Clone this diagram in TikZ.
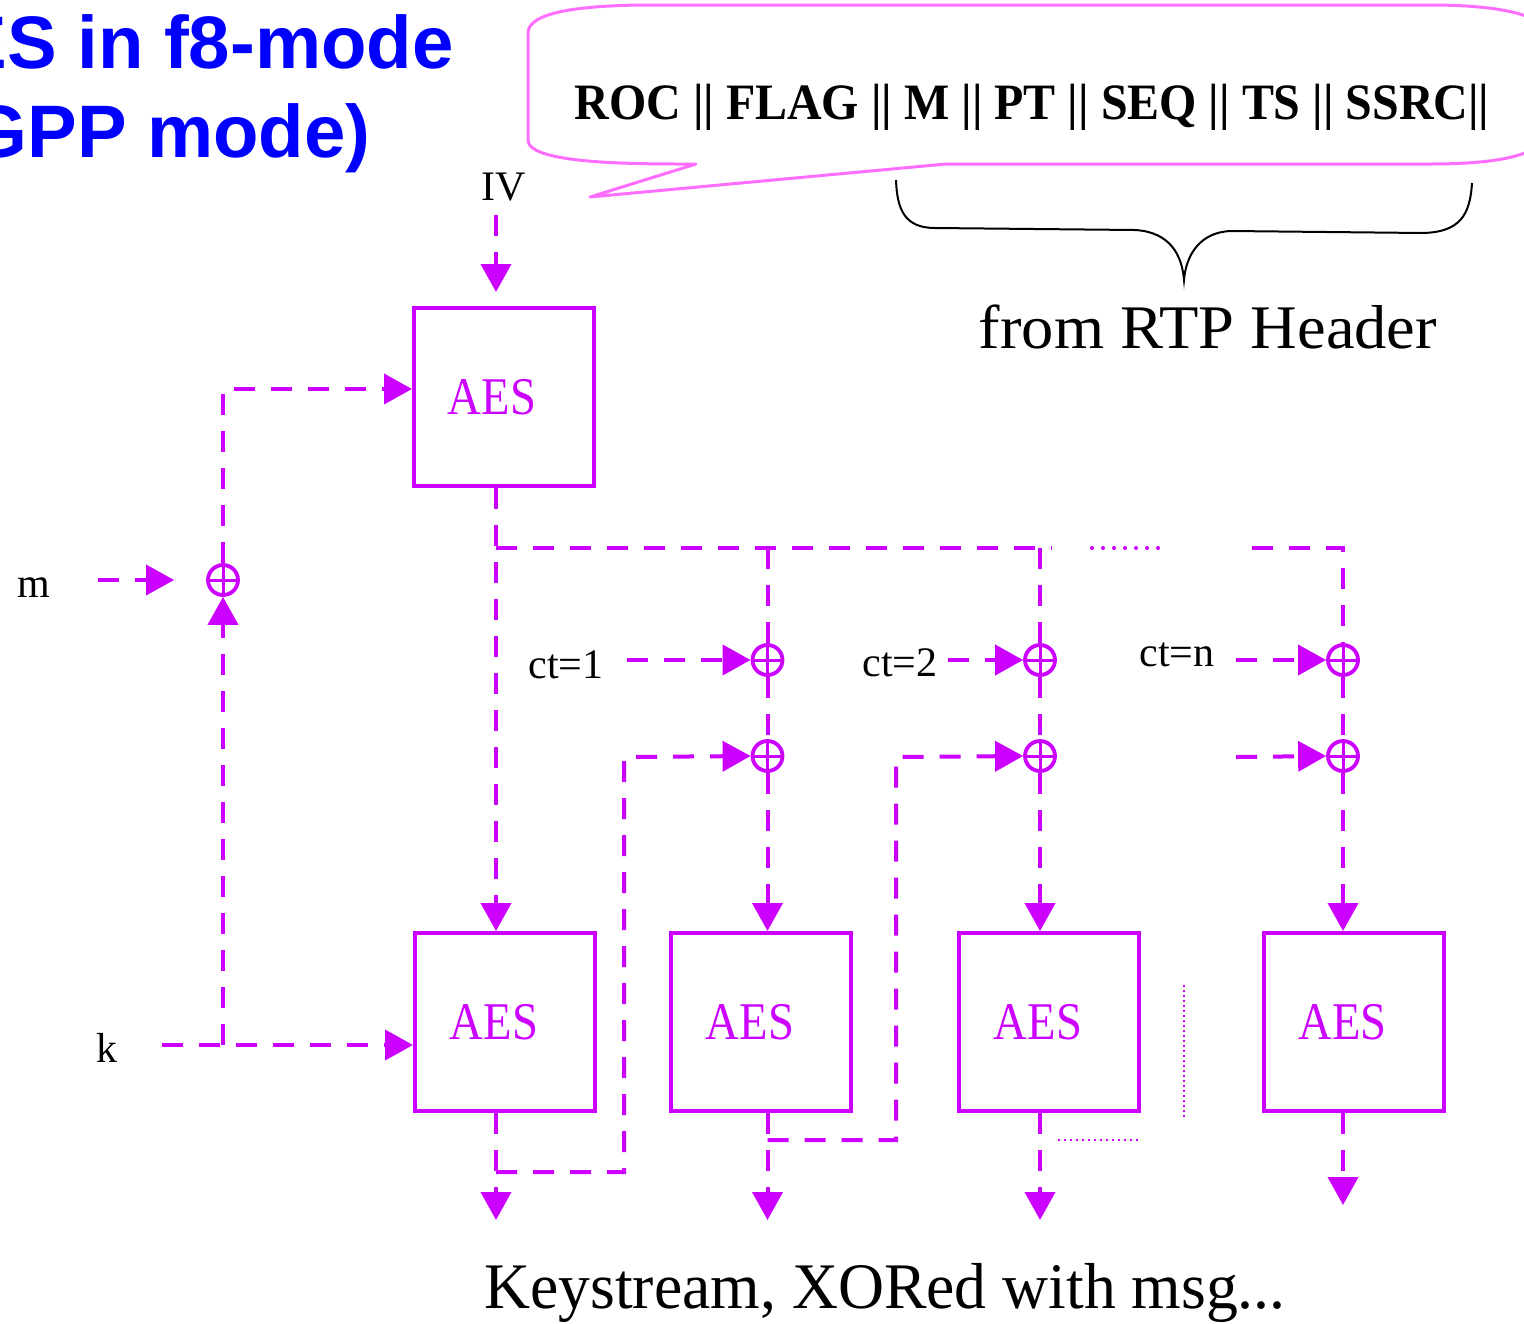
\documentclass[tikz,border=0pt]{standalone}
\usepackage{fontspec}
\setmainfont{Liberation Serif}
\newfontfamily\arialfont{Liberation Sans}
\usetikzlibrary{arrows.meta}
\definecolor{mag}{RGB}{204,0,255}
\definecolor{calloutpink}{RGB}{255,110,255}
\definecolor{titleblue}{RGB}{0,0,255}
\newcommand{\aestext}{\scalebox{0.88}[1]{AES}}
\begin{document}
\begin{tikzpicture}[x=0.5pt,y=-0.5pt,
  flow/.style={draw=mag, line width=2pt, dash pattern=on 10.5pt off 8pt},
  arr/.style={flow, -{Triangle[length=14pt,width=15pt]}},
  dotline/.style={draw=mag, line width=2pt, line cap=round, dash pattern=on 0pt off 5.5pt},
  smalldots/.style={draw=mag, line width=1pt, dash pattern=on 1pt off 2pt},
  aesbox/.style={draw=mag, line width=2pt, minimum width=90pt, minimum height=89pt,
    text=mag, font=\fontsize{26.5}{30}\selectfont, inner sep=0pt},
  xor/.style={circle, draw=mag, line width=1.9pt, minimum size=15pt, inner sep=0pt,
    path picture={\draw[mag,line width=1.5pt]
      (path picture bounding box.north) -- (path picture bounding box.south)
      (path picture bounding box.west) -- (path picture bounding box.east);}},
  lbl/.style={font=\fontsize{21}{24}\selectfont, inner sep=0pt, anchor=base},
]
\path[use as bounding box, clip] (0,0) rectangle (1524,1323);

% title
\node[anchor=base east, inner sep=0pt, text=titleblue, font=\arialfont\bfseries\fontsize{37.2}{40}\selectfont] (t1) at (454,68) {AES in f8-mode};
\node[anchor=base east, inner sep=0pt, text=titleblue, font=\arialfont\bfseries\fontsize{37.2}{40}\selectfont] (t2) at (371,157) {(3GPP mode)};

% callout
\draw[calloutpink, line width=1.5pt, line join=round]
  (696,164) -- (680,164) .. controls (600,164) and (528,160) .. (528,140)
  -- (528,33) .. controls (528,12) and (580,6) .. (640,5)
  -- (1430,5) .. controls (1500,5) and (1545,15) .. (1548,35)
  -- (1548,130) .. controls (1545,155) and (1500,164) .. (1430,164)
  -- (946,164) -- (590,197) -- cycle;
\node[anchor=base, inner sep=0pt, font=\bfseries\fontsize{25.5}{28}\selectfont] (hdr) at (1032,119) {\scalebox{0.94}[1]{ROC || FLAG || M || PT || SEQ || TS || SSRC||}};

% brace
\draw[black, line width=1pt]
  (896,180) .. controls (897,210) and (905,228) .. (935,228) -- (1135,230)
  .. controls (1170,232) and (1182,255) .. (1184,280)
  .. controls (1186,255) and (1200,232) .. (1231,231) -- (1423,233)
  .. controls (1460,232) and (1470,215) .. (1472,183);
\node[anchor=base, inner sep=0pt, font=\fontsize{31}{34}\selectfont] (rtp) at (1208,348) {\scalebox{1.04}[1]{from RTP Header}};

% AES boxes
\node[aesbox] (aes0) at (504,397) {\aestext\kern12pt};
\node[aesbox] (aes1) at (505,1022) {\aestext\kern11pt};
\node[aesbox] (aes2) at (761,1022) {\aestext\kern11pt};
\node[aesbox] (aes3) at (1049,1022) {\aestext\kern11pt};
\node[aesbox] (aes4) at (1353.5,1022) {\aestext\kern11pt};

% xor nodes
\node[xor] (xm) at (223,580) {};
\node[xor] (x1a) at (767.5,660) {};
\node[xor] (x1b) at (767.5,756) {};
\node[xor] (x2a) at (1040,660) {};
\node[xor] (x2b) at (1040,756) {};
\node[xor] (xna) at (1343,660) {};
\node[xor] (xnb) at (1343,756) {};

% labels
\node[lbl] (iv) at (504,200) {IV};
\node[lbl] (m) at (34,597) {m};
\node[lbl] (k) at (107,1062) {k};
\node[lbl] (ct1) at (566,678) {ct=1};
\node[lbl] (ct2) at (900,676) {ct=2};
\node[lbl] (ctn) at (1177,666) {ct=n};
\node[anchor=base, inner sep=0pt, font=\fontsize{32.5}{36}\selectfont] (ks) at (885,1308) {\scalebox{0.98}[1]{Keystream, XORed with msg...}};

% coordinates
\coordinate (ivs) at (496,215);
\coordinate (ive) at (496,292);
\coordinate (c1) at (496,0);
\coordinate (c2) at (767.5,0);
\coordinate (c3) at (1040,0);
\coordinate (c4) at (1343,0);
\coordinate (br) at (496,548);
\coordinate (bre) at (1052,548);
\coordinate (dots1) at (1092,548);
\coordinate (dots2) at (1158,548);
\coordinate (brn) at (1252,548);
\coordinate (brn2) at (1343,548);
\coordinate (ct1s) at (627,660);
\coordinate (ct2s) at (948,660);
\coordinate (ctns) at (1236,660);
\coordinate (xns) at (1236,757);
\coordinate (ms) at (98,580);
\coordinate (mcorner) at (223,389);
\coordinate (ks0) at (162,1045);
\coordinate (kup) at (223,1045);
\coordinate (fb1) at (496,1172);
\coordinate (fb1r) at (624,1172);
\coordinate (fb1u) at (624,757);
\coordinate (fb2) at (767.5,1140);
\coordinate (fb2r) at (896,1140);
\coordinate (fb2u) at (896,757);
\coordinate (o1) at (496,1220);
\coordinate (o2) at (767.5,1220);
\coordinate (o3) at (1040,1220);
\coordinate (o4) at (1343,1205);
\coordinate (d3a) at (1058,1140);
\coordinate (d3b) at (1140,1140);
\coordinate (vd1) at (1184,985);
\coordinate (vd2) at (1184,1117);

% connectors
\draw[arr] (ivs) -- (ive);
\draw[arr] (aes0.south -| c1) -- (aes1.north -| c1);
\draw[flow] (br) -- (bre);
\draw[dotline] (dots1) -- (dots2);
\draw[flow] (brn) -- (brn2) -- (xna.north);
\draw[flow] (br -| c2) -- (x1a.north);
\draw[flow] (br -| c3) -- (x2a.north);
\draw[arr] (ct1s) -- (x1a.west);
\draw[arr] (ct2s) -- (x2a.west);
\draw[arr] (ctns) -- (xna.west);
\draw[flow] (x1a.south) -- (x1b.north);
\draw[flow] (x2a.south) -- (x2b.north);
\draw[flow] (xna.south) -- (xnb.north);
\draw[arr] (x1b.south) -- (aes2.north -| c2);
\draw[arr] (x2b.south) -- (aes3.north -| c3);
\draw[arr] (xnb.south) -- (aes4.north -| c4);
\draw[arr] (xns) -- (xnb.west);
\draw[arr] (aes1.south -| c1) -- (o1);
\draw[arr] (aes2.south -| c2) -- (o2);
\draw[arr] (aes3.south -| c3) -- (o3);
\draw[arr] (aes4.south -| c4) -- (o4);
\draw[arr] (fb1) -- (fb1r) -- (fb1u) -- (x1b.west);
\draw[arr] (fb2) -- (fb2r) -- (fb2u) -- (x2b.west);
\draw[smalldots] (d3a) -- (d3b);
\draw[mag, line width=0.6pt, dash pattern=on 1pt off 1.5pt] (vd1) -- (vd2);
\draw[arr, shorten >=16pt] (ms) -- (xm.west);
\draw[arr] (xm.north) -- (mcorner) -- (mcorner -| aes0.west);
\draw[arr] (ks0) -- (ks0 -| aes1.west);
\draw[arr] (kup) -- (xm.south);
\end{tikzpicture}
\end{document}
